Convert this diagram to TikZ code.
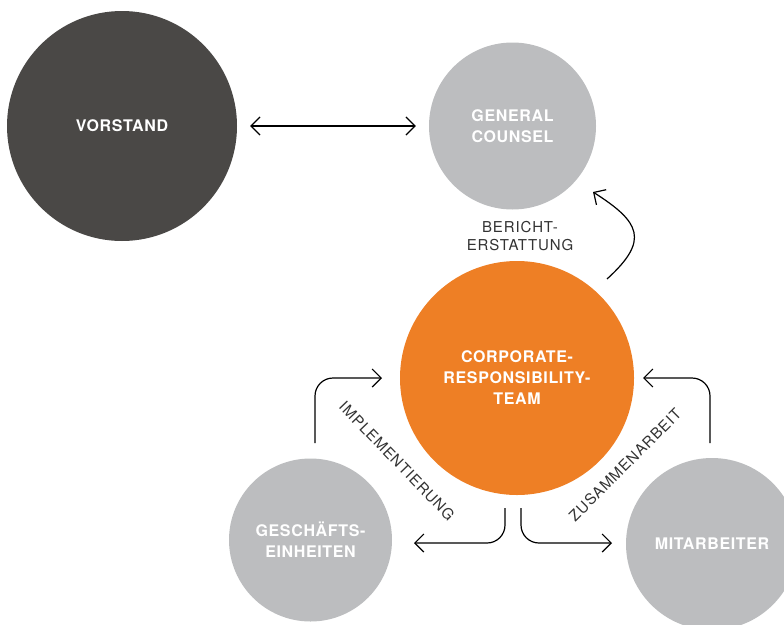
\documentclass[tikz,border=0pt]{standalone}
\usepackage{fontspec}
\setmainfont{TeX Gyre Heros}
\usetikzlibrary{arrows.meta}
\definecolor{cdark}{HTML}{4A4846}
\definecolor{cgray}{HTML}{BCBDBF}
\definecolor{corange}{HTML}{EE7F25}
\definecolor{ctext}{HTML}{333333}
\tikzset{
  circ/.style={circle, inner sep=0pt, text=white, align=center,
    font=\fontsize{16}{21}\selectfont\bfseries\addfontfeature{LetterSpace=4}},
  lbl/.style={text=ctext, align=center, inner sep=0pt,
    font=\fontsize{15}{18.5}\selectfont\addfontfeature{LetterSpace=6}},
  arr/.style={line width=1.2pt, -{Straight Barb[length=9pt,width=18pt,line width=1.2pt]}},
  darr/.style={line width=1.2pt, {Straight Barb[length=9pt,width=18pt,line width=1.2pt]}-{Straight Barb[length=9pt,width=18pt,line width=1.2pt]}},
  elbow/.style={arr, rounded corners=18pt}
}
\begin{document}
\begin{tikzpicture}[x=1pt,y=-1pt]
\useasboundingbox (0,0) rectangle (784,624);
\node[circ, fill=cdark, minimum size=230pt] (vorstand) at (122,126) {VORSTAND};
\node[circ, fill=cgray, minimum size=167pt] (counsel) at (512.5,126) {GENERAL\\COUNSEL};
\node[circ, fill=corange, minimum size=234pt] (crt) at (517,378) {CORPORATE-\\RESPONSIBILITY-\\TEAM};
\node[circ, fill=cgray, minimum size=163pt] (ge) at (310.5,540) {GESCHÄFTS-\\EINHEITEN};
\node[circ, fill=cgray, minimum size=172pt] (ma) at (712,544) {MITARBEITER};

\node[lbl] (bericht) at (520,236) {BERICHT-\\ERSTATTUNG};
\node[lbl, rotate=-46] (impl) at (397,461) {IMPLEMENTIERUNG};
\node[lbl, rotate=45] (zus) at (625,465) {ZUSAMMENARBEIT};

\draw[darr, shorten <=13pt, shorten >=13pt] (vorstand.east) -- (counsel.west);

\coordinate (b1) at (607,279);
\coordinate (b2) at (593,192);
\draw[arr] (b1) .. controls (650,240) and (640,222) .. (b2);

\coordinate (l1) at (315,443);
\coordinate (l2) at (382,378);
\draw[elbow] (l1) |- (l2);

\coordinate (r1) at (710,443);
\coordinate (r2) at (643,378);
\draw[elbow] (r1) |- (r2);

\coordinate (bl1) at (505,508);
\coordinate (bl2) at (414,543);
\draw[elbow] (bl1) |- (bl2);

\coordinate (br1) at (521,508);
\coordinate (br2) at (612,543);
\draw[elbow] (br1) |- (br2);
\end{tikzpicture}
\end{document}
